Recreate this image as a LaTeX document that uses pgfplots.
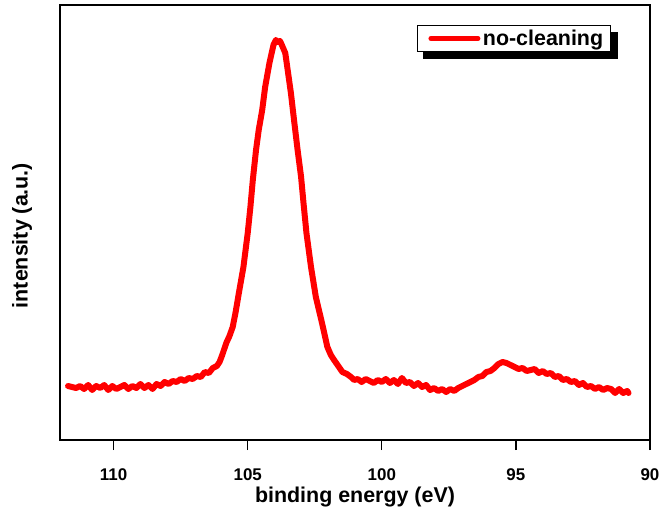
\documentclass[border=0pt]{standalone}
\usepackage{pgfplots}
\pgfplotsset{compat=1.18}
\usepackage{fontspec}
\setmainfont{Liberation Sans}
\usetikzlibrary{backgrounds}

\definecolor{spec}{RGB}{255,0,0}

\begin{document}
\begin{tikzpicture}
\begin{axis}[
  scale only axis,
  width=590bp, height=435bp,
  x dir=reverse,
  xmin=90, xmax=112,
  ymin=0, ymax=435,
  axis line style={line width=1.6bp},
  xtick={90,95,...,110},
  xtick pos=bottom,
  xtick align=outside,
  major tick length=10bp,
  ytick=\empty,
  minor ytick={54,128,209,291,373},
  minor tick length=3bp,
  ytick pos=left,
  ytick align=inside,
  tick style={line width=1.2bp, black},
  /pgf/number format/assume math mode=true,
  xticklabel style={font=\bfseries\fontsize{17}{17}\selectfont, yshift=-15bp},
  xlabel={binding energy (eV)},
  ylabel={intensity (a.u.)},
  label style={font=\bfseries\fontsize{21.5}{21.5}\selectfont},
  xlabel style={at={(axis description cs:0.5,0)}, anchor=base, yshift=-62bp},
  ylabel style={at={(axis description cs:0,0.47)}, anchor=center, yshift=38bp},
  legend style={name=leg, at={(axis description cs:0.605,0.954)}, anchor=north west,
    draw=black, line width=1bp, fill=white,
    font=\bfseries\fontsize{21.5}{21.5}\selectfont,
    inner xsep=5bp, inner ysep=2.5bp,
    nodes={inner xsep=2.5bp, inner ysep=2bp}},
  legend image code/.code={\path (-3bp,0bp);
    \draw[#1, line width=5bp, line cap=round] (2.5bp,0bp) -- (49.5bp,0bp);},
]
\addplot[spec, line width=6bp, line join=round, line cap=round] coordinates {
(111.70,54) (111.55,53) (111.40,52) (111.25,54) (111.10,51) (110.95,55)
(110.80,50) (110.65,54) (110.50,52) (110.35,55) (110.20,50) (110.05,54)
(109.90,51) (109.75,53) (109.60,55) (109.45,51) (109.30,54) (109.15,52)
(109.00,56) (108.85,52) (108.70,55) (108.55,51) (108.40,56) (108.25,54)
(108.10,58) (107.95,56) (107.80,59) (107.65,58) (107.50,61) (107.35,59)
(107.20,62) (107.05,61) (106.90,64) (106.75,63) (106.60,68) (106.45,67)
(106.30,72) (106.15,74) (106.05,78) (105.95,85) (105.80,97) (105.68,104)
(105.56,113) (105.45,128) (105.33,147) (105.16,173) (105.00,207) (104.90,233)
(104.81,260) (104.69,290) (104.59,310) (104.46,330) (104.35,353) (104.19,377)
(104.04,395) (103.95,400) (103.88,398) (103.80,399) (103.76,397) (103.60,387)
(103.51,370) (103.39,347) (103.26,317) (103.14,290) (103.01,263) (102.92,237)
(102.81,207) (102.64,173) (102.46,143) (102.23,117) (102.03,93) (101.90,85)
(101.78,80) (101.65,75) (101.47,68) (101.30,66) (101.15,63) (101.03,60)
(100.90,61) (100.75,58) (100.60,61) (100.45,59) (100.30,57) (100.15,60)
(100.00,58) (99.85,61) (99.70,57) (99.55,60) (99.40,56) (99.25,62)
(99.10,57) (98.95,58) (98.80,54) (98.65,57) (98.50,53) (98.35,55)
(98.20,50) (98.05,52) (97.90,49) (97.75,51) (97.60,48) (97.45,51)
(97.30,49) (97.15,52) (97.00,54) (96.85,56) (96.70,58) (96.55,60)
(96.40,63) (96.25,64) (96.10,68) (95.95,69) (95.80,72) (95.65,76)
(95.50,78) (95.35,77) (95.20,75) (95.05,73) (94.90,71) (94.75,72)
(94.60,69) (94.45,70) (94.30,71) (94.15,67) (94.00,69) (93.85,66)
(93.70,67) (93.55,63) (93.40,64) (93.25,60) (93.10,61) (92.95,58)
(92.80,59) (92.65,55) (92.50,57) (92.35,53) (92.20,54) (92.05,51)
(91.90,53) (91.75,50) (91.60,52) (91.45,51) (91.30,47) (91.15,51)
(91.00,47) (90.85,49) (90.80,47)
};
\addlegendentry{no-cleaning}
\end{axis}
\begin{scope}[on background layer]
\fill[black] ([shift={(6.5bp,-6.5bp)}]leg.south west) rectangle ([shift={(6.5bp,-6.5bp)}]leg.north east);
\end{scope}
\path (-60bp,-77bp) rectangle (603bp,440bp);
\end{tikzpicture}
\end{document}
